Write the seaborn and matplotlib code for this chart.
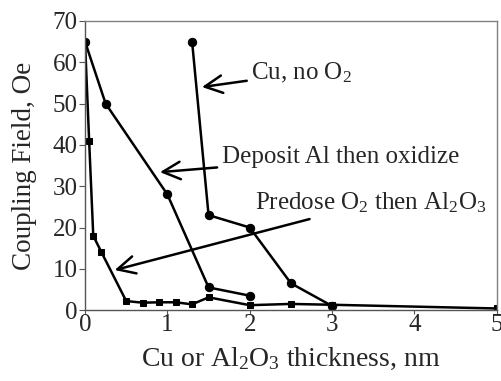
import pandas as pd
import numpy as np
import matplotlib
matplotlib.use('Agg')
import matplotlib.pyplot as plt
import seaborn as sns

# data
cu_x = [1.3, 1.5, 2.0, 2.5, 3.0]
cu_y = [65, 23, 20, 6.5, 1.0]

dep_x = [0, 0.25, 1.0, 1.5, 2.0]
dep_y = [65, 50, 28, 5.5, 3.5]

pre_x = [0, 0.05, 0.1, 0.2, 0.5, 0.7, 0.9, 1.1, 1.3, 1.5, 2.0, 2.5, 3.0, 5.0]
pre_y = [65, 41, 18, 14, 2.2, 1.8, 1.9, 1.9, 1.4, 3.1, 1.2, 1.5, 1.3, 0.4]

x_ticks = [0, 1, 2, 3, 4, 5]
y_ticks = [0, 10, 20, 30, 40, 50, 60, 70]

sns.set_style('ticks')
plt.rcParams['font.family'] = ['Liberation Serif', 'DejaVu Serif']
plt.rcParams['mathtext.fontset'] = 'custom'
plt.rcParams['mathtext.rm'] = 'Liberation Serif'
plt.rcParams['mathtext.it'] = 'Liberation Serif:italic'

fig = plt.figure(figsize=(5.01, 3.81), dpi=100)
ax = fig.add_axes([0.1697, 0.186, 0.822, 0.759])

df_cu = pd.DataFrame({'x': cu_x, 'y': cu_y})
df_dep = pd.DataFrame({'x': dep_x, 'y': dep_y})
df_pre = pd.DataFrame({'x': pre_x, 'y': pre_y})

line_kw = dict(color='black', linewidth=1.8, markersize=6,
               markeredgecolor='black', markerfacecolor='black', sort=False)
sns.lineplot(data=df_cu, x='x', y='y', marker='o', ax=ax, **line_kw)
sns.lineplot(data=df_dep, x='x', y='y', marker='o', ax=ax, **line_kw)
sns.lineplot(data=df_pre, x='x', y='y', marker='s', ax=ax,
             color='black', linewidth=1.8, markersize=5,
             markeredgecolor='black', markerfacecolor='black', sort=False)

ax.set_xlim(0, 5)
ax.set_ylim(0, 70)
ax.set_xticks(x_ticks)
ax.set_yticks(y_ticks)
ax.tick_params(axis='both', labelsize=18, direction='out', color='#555555')
ax.tick_params(axis='x', length=3, pad=0)
ax.tick_params(axis='y', length=4, pad=1.5)
for s in ['top', 'right']:
    ax.spines[s].set_visible(True)
    ax.spines[s].set_color('#808080')
    ax.spines[s].set_linewidth(1.0)
for s in ['left', 'bottom']:
    ax.spines[s].set_color('#555555')
    ax.spines[s].set_linewidth(1.0)

ax.set_xlabel('Cu or Al$_2$O$_3$ thickness, nm', fontsize=20, labelpad=7)
ax.set_ylabel('Coupling Field, Oe', fontsize=19.5, labelpad=11)

arrow = dict(arrowstyle='->,head_length=0.7,head_width=0.35', color='black',
             lw=1.8, shrinkA=1, shrinkB=0)
ax.annotate('Cu, no O$_2$', xy=(1.42, 54.0), xytext=(2.02, 57.4),
            fontsize=18, ha='left', va='center', arrowprops=arrow)
ax.annotate('Deposit Al then oxidize', xy=(0.91, 33.4), xytext=(1.66, 37.0),
            fontsize=18, ha='left', va='center', arrowprops=arrow)
ax.annotate('Predose O$_2$ then Al$_2$O$_3$', xy=(0.36, 9.7), xytext=(2.06, 25.9),
            fontsize=18, ha='left', va='center', arrowprops=arrow)

plt.savefig('out.png', dpi=100)
